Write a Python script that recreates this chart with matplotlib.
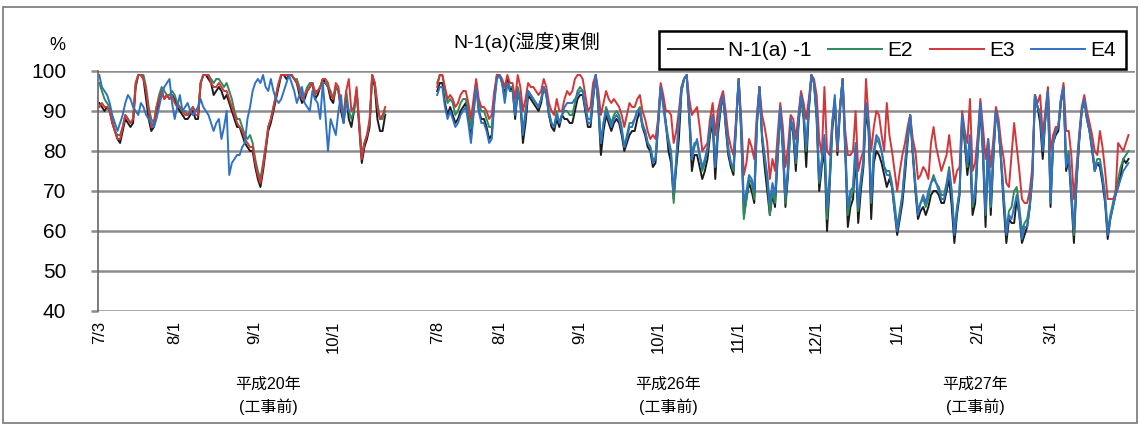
import numpy as np
import pandas as pd
import matplotlib
matplotlib.use('Agg')
import matplotlib.pyplot as plt
from matplotlib.patches import Rectangle

plt.rcParams['font.family'] = ['Liberation Sans Narrow', 'Liberation Sans', 'Noto Sans CJK JP', 'DejaVu Sans']

#%% DATA  (daily humidity %)
start_2008 = '2008-07-03'
start_2014 = '2014-07-08'
gap_days = 19   # empty categories between the two periods

n1_2008 = [92, 91, 90, 91, 90, 87, 85, 83, 82, 85,
           88, 87, 86, 87, 96, 99, 99, 98, 93, 88,
           85, 86, 90, 92, 95, 93, 94, 93, 94, 93,
           91, 90, 89, 88, 88, 89, 90, 88, 88, 97,
           99, 99, 98, 97, 94, 95, 96, 95, 93, 94,
           92, 90, 88, 86, 86, 84, 82, 81, 80, 80,
           76, 73, 71, 75, 80, 85, 87, 90, 93, 96,
           99, 99, 98, 99, 99, 98, 97, 94, 92, 93,
           95, 96, 97, 93, 94, 96, 98, 97, 96, 93,
           92, 96, 95, 90, 87, 94, 88, 86, 90, 95,
           86, 77, 81, 83, 86, 99, 96, 88, 85, 85,
           89]
e2_2008 = [97, 95, 93, 92, 91, 88, 85, 84, 84, 86,
           89, 88, 87, 88, 97, 99, 99, 99, 96, 91,
           88, 87, 91, 94, 96, 95, 94, 94, 95, 94,
           92, 91, 90, 90, 89, 90, 91, 90, 90, 97,
           99, 99, 99, 98, 97, 98, 98, 97, 96, 97,
           95, 93, 90, 88, 88, 86, 84, 83, 84, 82,
           78, 75, 73, 77, 81, 86, 88, 91, 94, 97,
           99, 99, 99, 99, 99, 98, 98, 96, 94, 94,
           96, 97, 97, 95, 95, 96, 97, 97, 96, 95,
           93, 96, 95, 91, 89, 95, 90, 88, 90, 95,
           87, 79, 82, 84, 87, 99, 97, 92, 88, 88,
           90]
e3_2008 = [91, 92, 91, 91, 90, 87, 85, 83, 83, 86,
           89, 88, 87, 88, 97, 99, 99, 98, 95, 90,
           86, 87, 91, 93, 95, 93, 94, 93, 94, 92,
           91, 91, 90, 89, 89, 90, 91, 89, 89, 97,
           99, 99, 99, 97, 96, 96, 97, 96, 95, 95,
           93, 91, 89, 87, 86, 85, 83, 82, 81, 81,
           77, 74, 72, 76, 81, 86, 88, 91, 94, 97,
           99, 99, 99, 99, 99, 98, 97, 95, 93, 94,
           95, 96, 97, 94, 95, 96, 98, 98, 97, 94,
           93, 97, 96, 91, 88, 95, 98, 90, 91, 96,
           87, 78, 82, 84, 88, 99, 97, 91, 88, 89,
           91]
e4_2008 = [99, 96, 95, 94, 92, 89, 87, 85, 87, 89,
           92, 94, 93, 91, 90, 89, 92, 91, 89, 88,
           87, 86, 88, 91, 94, 96, 97, 98, 92, 88,
           91, 94, 90, 91, 92, 90, 89, 90, 91, 93,
           91, 90, 89, 87, 85, 87, 88, 83, 86, 90,
           74, 77, 78, 79, 79, 81, 82, 88, 91, 95,
           97, 98, 97, 99, 96, 95, 98, 95, 93, 92,
           93, 95, 97, 99, 97, 95, 92, 94, 96, 92,
           91, 90, 95, 93, 92, 88, 97, 89, 80, 88,
           86, 84, 90, 94, 87, 92, 90]

n1_2014 = [95, 97, 97, 92, 89, 91, 89, 87, 88, 90,
           91, 92, 88, 83, 90, 97, 90, 88, 88, 86,
           83, 84, 93, 99, 99, 97, 94, 98, 95, 96,
           88, 95, 92, 82, 87, 94, 93, 92, 91, 90,
           92, 96, 94, 89, 86, 85, 88, 86, 89, 88,
           88, 87, 87, 90, 93, 94, 94, 90, 86, 86,
           93, 99, 91, 79, 85, 89, 87, 85, 87, 88,
           87, 84, 80, 82, 84, 85, 85, 88, 90, 86,
           84, 81, 80, 76, 77, 86, 96, 92, 87, 80,
           77, 68, 76, 83, 95, 98, 99, 88, 75, 79,
           79, 76, 73, 75, 78, 84, 87, 73, 84, 90,
           94, 86, 79, 76, 74, 86, 98, 84, 64, 68,
           72, 70, 67, 86, 96, 83, 76, 70, 64, 69,
           66, 78, 91, 80, 66, 74, 88, 84, 75, 86,
           94, 88, 76, 90, 99, 97, 88, 70, 76, 80,
           60, 71, 85, 92, 79, 90, 98, 80, 61, 66,
           68, 79, 62, 70, 76, 90, 85, 63, 77, 80,
           79, 77, 74, 71, 73, 71, 65, 59, 63, 67,
           74, 82, 89, 79, 70, 63, 65, 66, 64, 66,
           69, 70, 70, 69, 67, 67, 70, 73, 66, 57,
           64, 69, 88, 82, 74, 80, 64, 67, 80, 91,
           79, 61, 82, 64, 78, 90, 86, 77, 66, 57,
           63, 62, 62, 68, 64, 57, 59, 61, 66, 73,
           94, 91, 87, 78, 88, 95, 66, 82, 84, 85,
           92, 96, 75, 78, 68, 57, 72, 82, 90, 93,
           88, 85, 80, 75, 77, 76, 72, 67, 58, 63,
           66, 69, 71, 74, 78, 77, 78]
e2_2014 = [97, 99, 99, 95, 92, 93, 92, 89, 90, 92,
           93, 93, 90, 86, 91, 97, 92, 90, 90, 88,
           86, 86, 94, 99, 99, 97, 93, 97, 96, 96,
           90, 96, 93, 85, 90, 95, 94, 93, 92, 91,
           93, 96, 94, 90, 87, 86, 90, 87, 89, 90,
           90, 89, 89, 92, 95, 96, 95, 91, 88, 88,
           94, 99, 92, 82, 87, 91, 89, 87, 89, 90,
           89, 86, 81, 84, 87, 87, 88, 90, 91, 87,
           85, 82, 81, 78, 78, 87, 96, 92, 87, 83,
           80, 67, 78, 87, 95, 98, 99, 89, 79, 82,
           82, 79, 75, 77, 80, 85, 89, 76, 86, 91,
           94, 87, 80, 77, 75, 87, 98, 85, 63, 68,
           73, 72, 68, 87, 96, 84, 78, 73, 64, 70,
           67, 79, 91, 81, 67, 75, 88, 85, 77, 87,
           94, 89, 80, 91, 99, 97, 89, 72, 77, 83,
           63, 72, 86, 93, 80, 91, 98, 81, 64, 68,
           70, 81, 65, 72, 77, 92, 86, 67, 79, 83,
           82, 80, 76, 75, 75, 72, 67, 61, 65, 69,
           76, 83, 89, 80, 72, 65, 67, 68, 66, 68,
           72, 74, 72, 71, 69, 69, 72, 76, 70, 60,
           66, 70, 89, 83, 76, 83, 66, 69, 81, 92,
           80, 64, 82, 66, 79, 90, 86, 78, 69, 60,
           65, 66, 70, 71, 66, 60, 62, 63, 67, 74,
           94, 91, 90, 81, 88, 95, 68, 82, 85, 86,
           93, 96, 77, 80, 70, 59, 73, 83, 90, 93,
           88, 85, 81, 76, 78, 78, 74, 69, 60, 64,
           67, 70, 73, 76, 78, 79, 80]
e3_2014 = [96, 99, 99, 96, 93, 94, 93, 91, 92, 94,
           95, 95, 92, 88, 93, 98, 93, 91, 91, 90,
           88, 89, 95, 99, 99, 98, 96, 99, 97, 97,
           93, 99, 96, 90, 93, 97, 96, 96, 95, 94,
           95, 98, 96, 92, 90, 89, 93, 90, 90, 93,
           95, 94, 95, 98, 99, 99, 98, 94, 90, 91,
           97, 99, 95, 89, 92, 95, 93, 92, 93, 92,
           91, 89, 86, 89, 92, 91, 91, 93, 94, 90,
           88, 85, 83, 84, 83, 88, 97, 94, 90, 90,
           89, 82, 85, 90, 96, 98, 99, 93, 89, 90,
           91, 86, 80, 81, 82, 88, 92, 84, 90, 93,
           95, 90, 84, 81, 79, 88, 98, 88, 74, 77,
           83, 81, 78, 89, 96, 89, 86, 82, 73, 78,
           75, 84, 92, 86, 76, 81, 89, 88, 83, 89,
           95, 92, 88, 93, 99, 98, 94, 83, 79, 96,
           80, 79, 87, 93, 80, 91, 98, 85, 79, 79,
           80, 90, 75, 78, 80, 98, 88, 80, 86, 90,
           89, 84, 80, 92, 84, 80, 75, 70, 75, 79,
           82, 86, 89, 83, 80, 73, 74, 76, 75, 73,
           82, 86, 81, 78, 75, 77, 79, 84, 78, 72,
           75, 76, 90, 85, 82, 93, 75, 77, 84, 93,
           86, 78, 83, 76, 83, 91, 88, 82, 78, 72,
           71, 79, 87, 81, 75, 68, 67, 67, 70, 76,
           94, 92, 94, 84, 90, 96, 80, 84, 86, 86,
           93, 97, 85, 85, 79, 68, 76, 84, 91, 94,
           90, 87, 84, 80, 79, 85, 81, 75, 68, 68,
           68, 69, 82, 81, 80, 82, 84]
e4_2014 = [94, 96, 96, 91, 88, 90, 88, 86, 87, 89,
           90, 91, 87, 82, 89, 96, 90, 87, 87, 85,
           82, 83, 92, 98, 99, 97, 92, 97, 95, 95,
           89, 95, 92, 84, 89, 95, 94, 93, 92, 91,
           93, 96, 94, 89, 87, 86, 89, 87, 89, 91,
           92, 92, 92, 93, 94, 95, 95, 91, 87, 87,
           94, 99, 92, 82, 87, 90, 88, 86, 88, 89,
           88, 85, 81, 83, 86, 86, 88, 90, 90, 86,
           85, 82, 81, 77, 78, 87, 96, 91, 86, 82,
           79, 70, 78, 88, 96, 98, 99, 89, 78, 81,
           83, 79, 76, 78, 81, 86, 89, 76, 86, 91,
           94, 87, 81, 77, 76, 87, 98, 86, 67, 70,
           74, 73, 70, 87, 96, 84, 79, 74, 67, 72,
           69, 80, 91, 82, 69, 76, 88, 86, 78, 88,
           94, 90, 81, 91, 99, 97, 90, 73, 78, 84,
           66, 74, 87, 94, 81, 91, 98, 82, 66, 70,
           71, 82, 66, 73, 78, 92, 87, 68, 80, 84,
           83, 80, 76, 74, 74, 71, 65, 60, 64, 69,
           77, 84, 89, 80, 71, 64, 67, 69, 67, 70,
           72, 73, 72, 70, 68, 68, 71, 75, 69, 59,
           65, 70, 89, 84, 77, 84, 67, 70, 82, 92,
           81, 65, 83, 67, 80, 90, 86, 78, 68, 59,
           64, 63, 66, 69, 64, 58, 61, 61, 66, 74,
           94, 91, 89, 80, 88, 95, 67, 82, 85, 86,
           93, 96, 76, 79, 70, 60, 73, 83, 90, 93,
           88, 85, 81, 75, 77, 77, 73, 68, 59, 63,
           66, 69, 71, 73, 75, 76, 77]

series_names = ['N-1(a) -1', 'E2', 'E3', 'E4']
series_colors = ['#1c1c1c', '#2f8a5c', '#d2363a', '#2f72c4']
period_labels = ['平成20年\n(工事前)', '平成26年\n(工事前)', '平成27年\n(工事前)']

#%% CATEGORY POSITIONS
dates_2008 = pd.date_range(start_2008, periods=len(n1_2008), freq='D')
dates_2014 = pd.date_range(start_2014, periods=len(n1_2014), freq='D')
x_2008 = np.arange(len(dates_2008))
x_2014 = np.arange(len(dates_2014)) + len(dates_2008) + gap_days


def tick_list(dates, xs):
    pos, lab = [], []
    for k, (d, x) in enumerate(zip(dates, xs)):
        if k == 0 or d.day == 1:
            pos.append(x)
            lab.append('{}/{}'.format(d.month, d.day))
    return pos, lab


p1, l1 = tick_list(dates_2008, x_2008)
p2, l2 = tick_list(dates_2014, x_2014)

#%% PLOT
fig = plt.figure(figsize=(11.4, 4.26), dpi=100)
ax = fig.add_axes([98 / 1140, 1 - 311 / 426, (1135 - 98) / 1140, 240 / 426])

data_2008 = [n1_2008, e2_2008, e3_2008, e4_2008]
data_2014 = [n1_2014, e2_2014, e3_2014, e4_2014]
handles = []
for s08, s14, name, col in zip(data_2008, data_2014, series_names, series_colors):
    h, = ax.plot(x_2008[:len(s08)], s08, color=col, lw=1.4, label=name)
    ax.plot(x_2014[:len(s14)], s14, color=col, lw=1.4)
    handles.append(h)

ax.set_ylim(40, 100)
ax.set_xlim(-0.5, 398.5)
ax.set_yticks(range(40, 101, 10))
ax.set_xticks(p1 + p2)
ax.set_xticklabels(l1 + l2, rotation=90, fontsize=12)
ax.yaxis.grid(True, color='#8c8c8c', lw=1.8)
ax.set_axisbelow(True)
for s in ['top', 'right', 'bottom']:
    ax.spines[s].set_visible(False)
ax.spines['left'].set_color('#666666')
ax.spines['left'].set_linewidth(1.2)
ax.tick_params(axis='y', length=5, width=1.8, color='#8c8c8c', pad=18, labelsize=15)
ax.tick_params(axis='x', length=0, pad=7)

fig.text(57 / 1140, 1 - 45 / 426, '%', fontsize=13, ha='center', va='center')
fig.text(527 / 1140, 1 - 42 / 426, 'N-1(a)(湿度)東側', fontsize=14, ha='center', va='center')

for xpos, txt in zip([65, 219, 337], period_labels):
    ax.text(xpos, -0.355, txt, transform=ax.get_xaxis_transform(),
            ha='center', va='center', fontsize=11.5, linespacing=1.5)

leg = fig.legend(handles=handles, labels=series_names, loc='upper right',
                 bbox_to_anchor=(1136 / 1140, 1 - 21 / 426), ncol=4,
                 fontsize=15, handlelength=2.6, handletextpad=0.25,
                 columnspacing=0.8, borderpad=0.45, fancybox=False,
                 framealpha=1, edgecolor='black')
leg.get_frame().set_linewidth(1.8)

fig.add_artist(Rectangle((3 / 1140, 3 / 426), 1134 / 1140, 416 / 426,
                         transform=fig.transFigure, fill=False,
                         edgecolor='#777777', lw=1.2))

fig.savefig('out.png', dpi=100, facecolor='white')
